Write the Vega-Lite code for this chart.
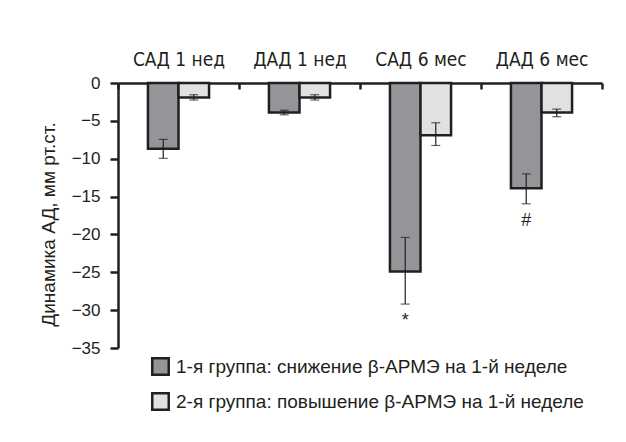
{
  "$schema": "https://vega.github.io/schema/vega-lite/v6.json",
  "autosize": {"type": "none"},
  "width": 484,
  "height": 265,
  "padding": {"left": 118, "top": 83, "right": 24, "bottom": 94},
  "background": "white",
  "config": {
    "view": {"stroke": null},
    "font": "Liberation Sans",
    "axis": {"labelFont": "Liberation Sans", "titleFont": "Liberation Sans", "labelColor": "#231f20", "titleColor": "#231f20", "domainColor": "#231f20", "tickColor": "#231f20"},
    "axisY": {
      "titleFontSize": 19, "titleFontWeight": "normal", "titleY": 141, "titlePadding": 13,
      "labelOverlap": false, "labelFlush": false, "labelFontSize": 17, "grid": false,
      "domainWidth": 2.5, "tickWidth": 2.5, "tickSize": 8, "labelPadding": 10
    },
    "legend": {"labelFont": "Liberation Sans", "labelColor": "#231f20"}
  },
  "data": {
    "values": [
      {"cat": "САД 1 нед", "group": "1-я группа: снижение β-АРМЭ на 1-й неделе", "value": -8.7, "lo": -9.95, "hi": -7.45, "note": ""},
      {"cat": "САД 1 нед", "group": "2-я группа: повышение β-АРМЭ на 1-й неделе", "value": -1.9, "lo": -2.25, "hi": -1.55, "note": ""},
      {"cat": "ДАД 1 нед", "group": "1-я группа: снижение β-АРМЭ на 1-й неделе", "value": -3.9, "lo": -4.2, "hi": -3.6, "note": ""},
      {"cat": "ДАД 1 нед", "group": "2-я группа: повышение β-АРМЭ на 1-й неделе", "value": -1.9, "lo": -2.25, "hi": -1.55, "note": ""},
      {"cat": "САД 6 мес", "group": "1-я группа: снижение β-АРМЭ на 1-й неделе", "value": -24.9, "lo": -29.2, "hi": -20.4, "note": "*"},
      {"cat": "САД 6 мес", "group": "2-я группа: повышение β-АРМЭ на 1-й неделе", "value": -6.9, "lo": -8.25, "hi": -5.25, "note": ""},
      {"cat": "ДАД 6 мес", "group": "1-я группа: снижение β-АРМЭ на 1-й неделе", "value": -13.9, "lo": -15.95, "hi": -12.0, "note": "#"},
      {"cat": "ДАД 6 мес", "group": "2-я группа: повышение β-АРМЭ на 1-й неделе", "value": -3.9, "lo": -4.45, "hi": -3.45, "note": ""}
    ]
  },
  "encoding": {
    "x": {
      "field": "cat", "type": "nominal", "sort": null,
      "scale": {"paddingInner": 0, "paddingOuter": 0},
      "axis": {
        "orient": "top", "title": null, "labelAngle": 0, "labelFontSize": 19,
        "labelFont": "DejaVu Sans Condensed, Liberation Sans",
        "domainWidth": 2.5, "tickWidth": 2.5, "tickSize": -6, "tickBand": "extent",
        "labelPadding": 20
      }
    },
    "xOffset": {"field": "group", "type": "nominal", "scale": {"paddingInner": 0, "paddingOuter": 0.98}}
  },
  "layer": [
    {
      "mark": {"type": "bar", "stroke": "#231f20", "strokeWidth": 2.5},
      "encoding": {
        "y": {
          "field": "value", "type": "quantitative",
          "scale": {"domain": [-35, 0], "nice": false, "zero": false},
          "axis": {"title": "Динамика АД, мм рт.ст.", "values": [-35, -30, -25, -20, -15, -10, -5, 0]}
        },
        "fill": {
          "field": "group", "type": "nominal",
          "scale": {"range": ["#939598", "#e0e1e3"]},
          "legend": {
            "title": null, "orient": "none", "legendX": 33, "legendY": 274,
            "direction": "vertical", "padding": 0,
            "symbolType": "square", "symbolSize": 272, "symbolStrokeColor": "#231f20",
            "symbolStrokeWidth": 2.5, "symbolOpacity": 1,
            "labelFontSize": 19, "labelOffset": 6, "rowPadding": 8, "labelLimit": 600
          }
        }
      }
    },
    {
      "mark": {"type": "rule", "color": "#231f20", "strokeWidth": 1.2},
      "encoding": {
        "y": {"field": "lo", "type": "quantitative", "axis": {"title": "Динамика АД, мм рт.ст.", "values": [-35, -30, -25, -20, -15, -10, -5, 0]}},
        "y2": {"field": "hi"}
      }
    },
    {
      "mark": {"type": "tick", "color": "#231f20", "thickness": 1.2, "size": 9},
      "encoding": {"y": {"field": "lo", "type": "quantitative", "axis": {"title": "Динамика АД, мм рт.ст.", "values": [-35, -30, -25, -20, -15, -10, -5, 0]}}}
    },
    {
      "mark": {"type": "tick", "color": "#231f20", "thickness": 1.2, "size": 9},
      "encoding": {"y": {"field": "hi", "type": "quantitative", "axis": {"title": "Динамика АД, мм рт.ст.", "values": [-35, -30, -25, -20, -15, -10, -5, 0]}}}
    },
    {
      "transform": [{"filter": "datum.note != ''"}],
      "mark": {"type": "text", "fontSize": 18, "color": "#231f20", "baseline": "alphabetic", "dy": 22},
      "encoding": {
        "y": {"field": "lo", "type": "quantitative", "axis": {"title": "Динамика АД, мм рт.ст.", "values": [-35, -30, -25, -20, -15, -10, -5, 0]}},
        "text": {"field": "note"}
      }
    }
  ]
}
